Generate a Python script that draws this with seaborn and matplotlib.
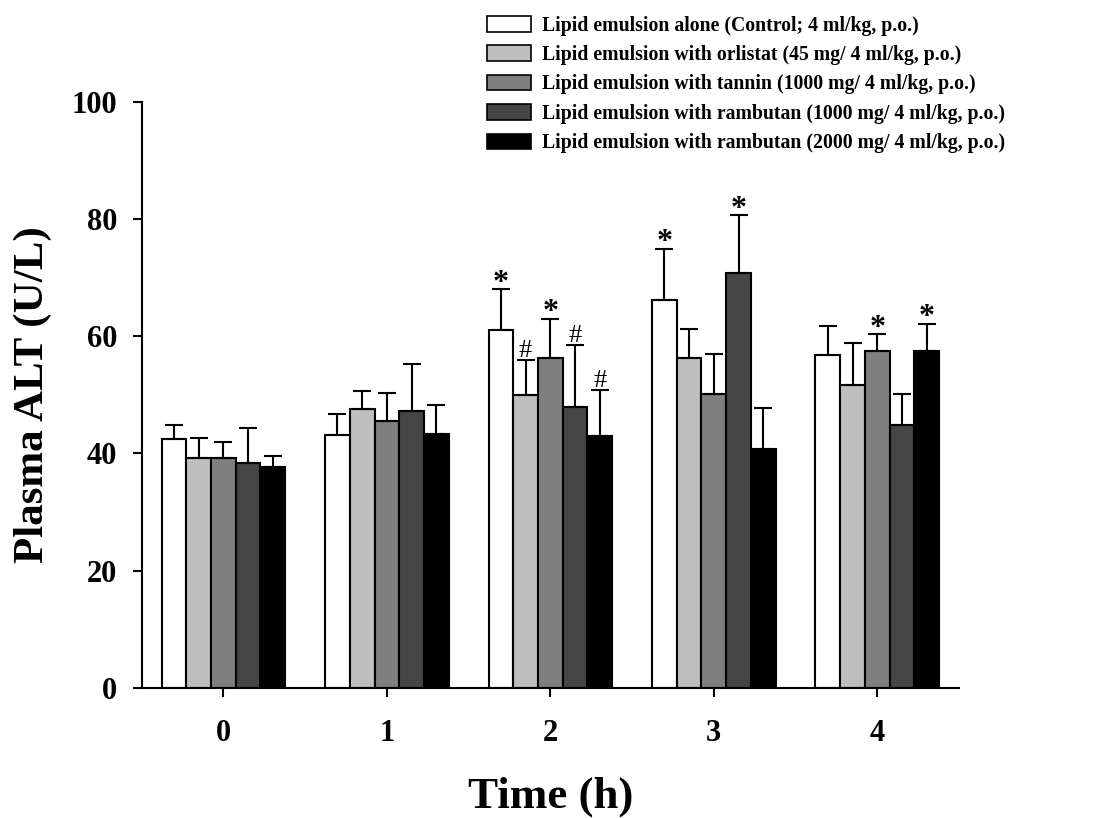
import matplotlib
matplotlib.use("Agg")
import matplotlib.pyplot as plt
import seaborn as sns
import pandas as pd
import numpy as np
from matplotlib.patches import Patch

# ---- data ----
times = ["0", "1", "2", "3", "4"]
groups = [
    "Lipid emulsion alone (Control; 4 ml/kg, p.o.)",
    "Lipid emulsion with orlistat (45 mg/ 4 ml/kg, p.o.)",
    "Lipid emulsion with tannin (1000 mg/ 4 ml/kg, p.o.)",
    "Lipid emulsion with rambutan (1000 mg/ 4 ml/kg, p.o.)",
    "Lipid emulsion with rambutan (2000 mg/ 4 ml/kg, p.o.)",
]
control = [42.5, 43.1, 61.0, 66.1, 56.8]
orlistat = [39.2, 47.6, 49.9, 56.3, 51.7]
tannin = [39.2, 45.5, 56.3, 50.2, 57.4]
ramb1000 = [38.4, 47.2, 47.9, 70.8, 44.9]
ramb2000 = [37.7, 43.3, 42.9, 40.7, 57.4]

control_err = [2.3, 3.6, 7.0, 8.8, 4.9]
orlistat_err = [3.5, 3.0, 6.0, 5.0, 7.2]
tannin_err = [2.8, 4.8, 6.7, 6.7, 2.9]
ramb1000_err = [6.0, 8.1, 10.6, 9.8, 5.3]
ramb2000_err = [1.9, 5.0, 7.9, 7.0, 4.7]

# significance marks (per group, per time)
control_sig = ["", "", "*", "*", ""]
orlistat_sig = ["", "", "#", "", ""]
tannin_sig = ["", "", "*", "", "*"]
ramb1000_sig = ["", "", "#", "*", ""]
ramb2000_sig = ["", "", "#", "", "*"]

colors = ["#ffffff", "#bebebe", "#7f7f7f", "#454545", "#000000"]

values = [control, orlistat, tannin, ramb1000, ramb2000]
errors = [control_err, orlistat_err, tannin_err, ramb1000_err, ramb2000_err]
sigs = [control_sig, orlistat_sig, tannin_sig, ramb1000_sig, ramb2000_sig]

rows = []
for g, vals, errs in zip(groups, values, errors):
    for t, v, e in zip(times, vals, errs):
        rows.append({"Time": t, "Group": g, "ALT": v, "SEM": e})
df = pd.DataFrame(rows)

# ---- plot ----
sns.set_style("white")
plt.rcParams["font.family"] = ["Liberation Serif", "DejaVu Serif"]
plt.rcParams["font.weight"] = "bold"
plt.rcParams["text.color"] = "black"
plt.rcParams["axes.labelcolor"] = "black"
plt.rcParams["xtick.color"] = "black"
plt.rcParams["ytick.color"] = "black"

fig = plt.figure(figsize=(11.12, 8.18), dpi=100)
ax = fig.add_axes([0.1274, 0.1589, 0.8624 - 0.1274, 0.8757 - 0.1589])

sns.barplot(data=df, x="Time", y="ALT", hue="Group", hue_order=groups,
            order=times, palette=colors, edgecolor="black", linewidth=1.5,
            errorbar=None, width=0.756, gap=0, legend=False, ax=ax,
            saturation=1)

for cont, errs, sg in zip(ax.containers, errors, sigs):
    for bar, e, s in zip(cont, errs, sg):
        xc = bar.get_x() + bar.get_width() / 2
        top = bar.get_height()
        ax.errorbar(xc, top, yerr=[[0], [e]], fmt="none", ecolor="black",
                    elinewidth=1.5, capsize=6.5, capthick=1.5, zorder=3)
        if s == "*":
            ax.annotate("*", (xc, top + e), xytext=(0, -1),
                        textcoords="offset points", ha="center",
                        va="baseline", fontsize=23, fontweight="bold")
        elif s == "#":
            ax.annotate("#", (xc, top + e), xytext=(0, 2.5),
                        textcoords="offset points", ha="center",
                        va="baseline", fontsize=19, fontweight="normal")

ax.set_xlim(-0.5, 4.5)
ax.set_ylim(0, 100)
ax.set_yticks([0, 20, 40, 60, 80, 100])
for sp in ["top", "right"]:
    ax.spines[sp].set_visible(False)
for sp in ["left", "bottom"]:
    ax.spines[sp].set_linewidth(1.5)
    ax.spines[sp].set_color("black")
ax.tick_params(axis="both", direction="out", length=6.5, width=1.5,
               color="black", labelsize=22, left=True, bottom=True)
ax.tick_params(axis="y", pad=11)
ax.tick_params(axis="x", pad=16)
for lab in ax.get_xticklabels() + ax.get_yticklabels():
    lab.set_fontweight("bold")

ax.set_xlabel("Time (h)", fontsize=32.5, fontweight="bold", labelpad=20)
ax.set_ylabel("Plasma ALT (U/L)", fontsize=31, fontweight="bold", labelpad=14)

handles = [Patch(facecolor=c, edgecolor="black", linewidth=1.2) for c in colors]
fig.legend(handles, groups, loc="upper left",
           bbox_to_anchor=(487 / 1112, 1 - 15.5 / 818), frameon=False,
           prop={"family": ["Liberation Serif"], "weight": "bold", "size": 14.2},
           handlelength=2.25, handleheight=0.85, handletextpad=0.55,
           labelspacing=0.48, borderpad=0, borderaxespad=0)

fig.savefig("out.png", dpi=100, facecolor="white")
